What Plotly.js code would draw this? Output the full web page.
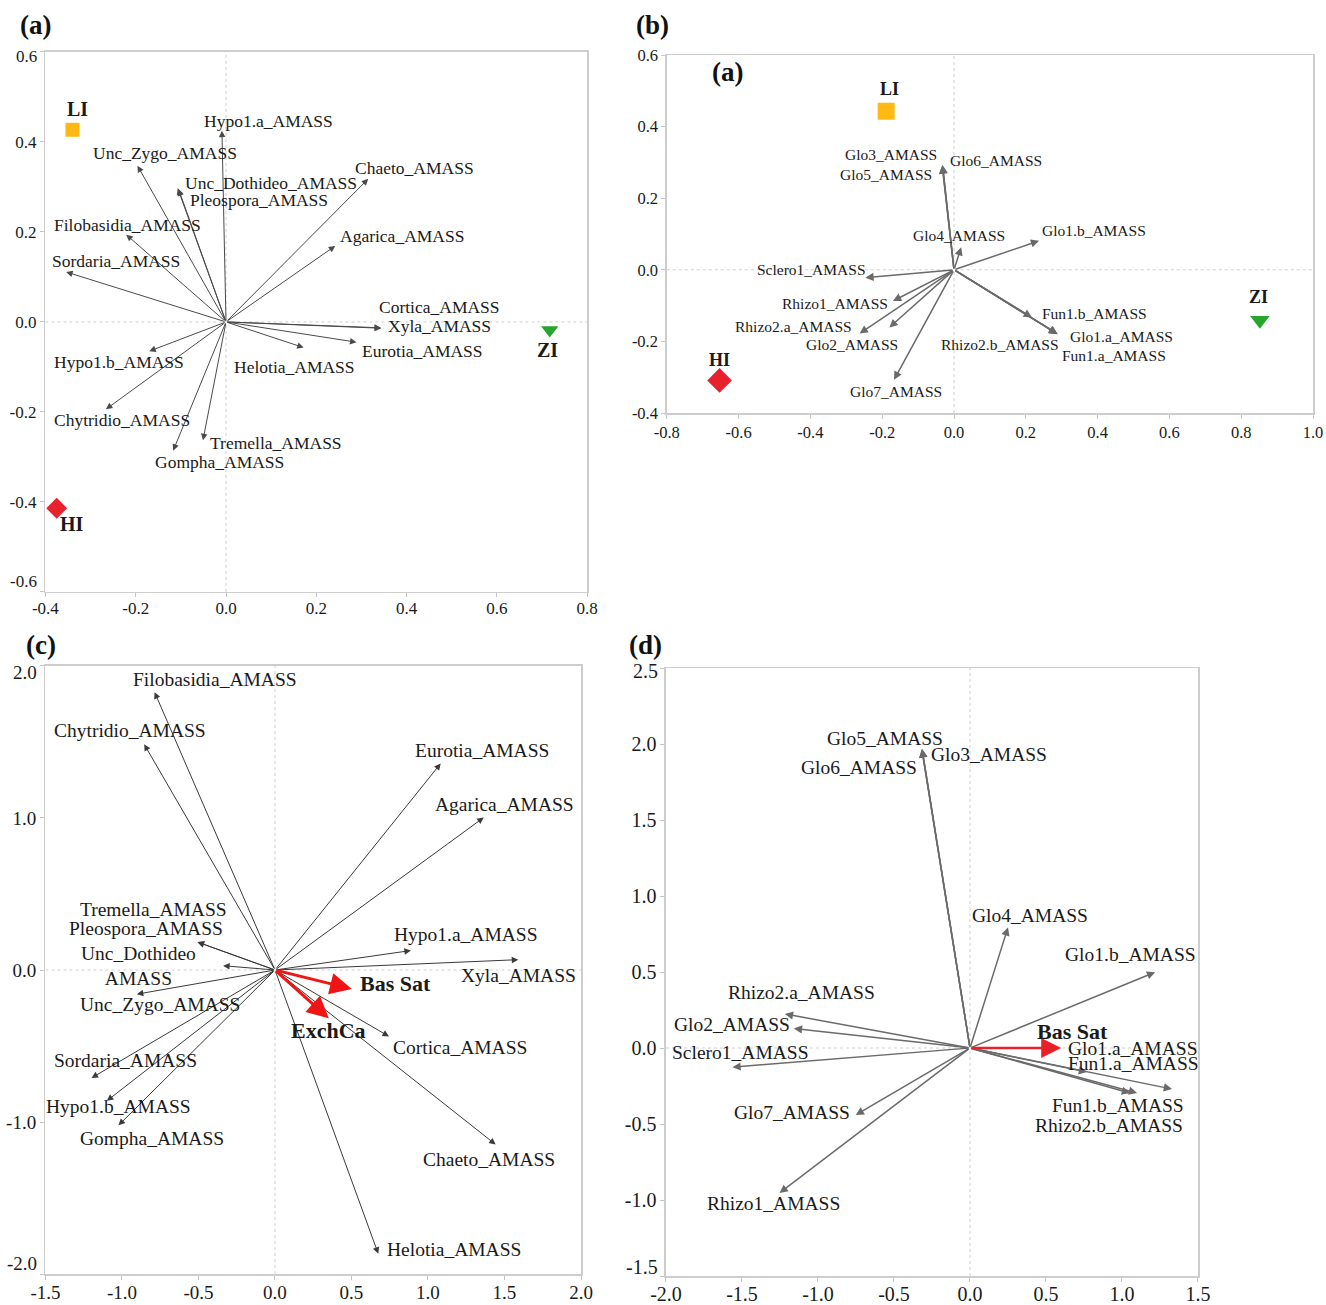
<!DOCTYPE html>
<html><head><meta charset="utf-8">
<script src="https://cdn.plot.ly/plotly-3.0.1.min.js"></script>
<style>html,body{margin:0;padding:0;background:#fff}#chart{width:1326px;height:1305px}</style>
</head><body><div id="chart"></div>
<script>
// ================= DATA =================
const siteNames = ['LI', 'ZI', 'HI'];
const siteColors = ['#FFB912', '#27A62C', '#E8212E'];
const siteSymbols = ['square', 'triangle-down', 'diamond'];

// (a) species arrows vs site scores
const aNames = ['Hypo1.a_AMASS', 'Unc_Zygo_AMASS', 'Unc_Dothideo_AMASS', 'Pleospora_AMASS', 'Chaeto_AMASS', 'Agarica_AMASS', 'Filobasidia_AMASS', 'Sordaria_AMASS', 'Cortica_AMASS', 'Xyla_AMASS', 'Eurotia_AMASS', 'Helotia_AMASS', 'Hypo1.b_AMASS', 'Chytridio_AMASS', 'Gompha_AMASS', 'Tremella_AMASS'];
const aX = [-0.009, -0.196, -0.107, -0.105, 0.315, 0.242, -0.221, -0.354, 0.344, 0.343, 0.289, 0.172, -0.170, -0.266, -0.117, -0.051];
const aY = [0.425, 0.347, 0.297, 0.295, 0.318, 0.169, 0.194, 0.111, -0.014, -0.013, -0.045, -0.057, -0.065, -0.194, -0.286, -0.263];
const aSiteX = [-0.340, 0.717, -0.375];
const aSiteY = [0.427, -0.018, -0.414];

// (b) AMF arrows vs site scores
const bNames = ['Glo3_AMASS', 'Glo5_AMASS', 'Glo6_AMASS', 'Glo4_AMASS', 'Glo1.b_AMASS', 'Sclero1_AMASS', 'Rhizo1_AMASS', 'Rhizo2.a_AMASS', 'Glo2_AMASS', 'Glo7_AMASS', 'Fun1.b_AMASS', 'Glo1.a_AMASS', 'Fun1.a_AMASS', 'Rhizo2.b_AMASS'];
const bX = [-0.032, -0.032, -0.033, 0.020, 0.237, -0.247, -0.170, -0.263, -0.180, -0.167, 0.217, 0.289, 0.288, 0.287];
const bY = [0.293, 0.292, 0.291, 0.063, 0.081, -0.022, -0.087, -0.178, -0.161, -0.307, -0.133, -0.180, -0.179, -0.178];
const bSiteX = [-0.189, 0.852, -0.653];
const bSiteY = [0.443, -0.141, -0.309];

// (c) species arrows with environmental vectors
const cNames = ['Filobasidia_AMASS', 'Chytridio_AMASS', 'Eurotia_AMASS', 'Agarica_AMASS', 'Hypo1.a_AMASS', 'Xyla_AMASS', 'Tremella_AMASS', 'Pleospora_AMASS', 'Unc_Dothideo<br>AMASS', 'Unc_Zygo_AMASS', 'Sordaria_AMASS', 'Hypo1.b_AMASS', 'Gompha_AMASS', 'Cortica_AMASS', 'Chaeto_AMASS', 'Helotia_AMASS'];
const cX = [-0.787, -0.855, 1.083, 1.364, 0.888, 1.590, -0.507, -0.505, -0.339, -0.903, -1.199, -1.099, -1.023, 0.745, 1.442, 0.675];
const cY = [1.828, 1.485, 1.359, 1.003, 0.128, 0.068, 0.184, 0.183, 0.028, -0.159, -0.710, -0.861, -1.022, -0.437, -1.148, -1.867];
const cEnvNames = ['Bas Sat', 'ExchCa'];
const cEnvX = [0.502, 0.352];
const cEnvY = [-0.125, -0.318];

// (d) AMF arrows with environmental vector
const dNames = ['Glo5_AMASS', 'Glo3_AMASS', 'Glo6_AMASS', 'Glo4_AMASS', 'Glo1.b_AMASS', 'Rhizo2.a_AMASS', 'Glo2_AMASS', 'Sclero1_AMASS', 'Glo7_AMASS', 'Rhizo1_AMASS', 'Glo1.a_AMASS', 'Fun1.a_AMASS', 'Fun1.b_AMASS', 'Rhizo2.b_AMASS'];
const dX = [-0.315, -0.316, -0.317, 0.250, 1.218, -1.218, -1.159, -1.563, -0.752, -1.253, 1.329, 0.770, 1.053, 1.099];
const dY = [1.967, 1.966, 1.965, 0.794, 0.499, 0.224, 0.129, -0.126, -0.441, -0.954, -0.270, -0.158, -0.296, -0.296];
const dEnvNames = ['Bas Sat'];
const dEnvX = [0.600];
const dEnvY = [0.0];

// tick values / labels
const aXticks = [-0.4, -0.2, 0.0, 0.2, 0.4, 0.6, 0.8];
const aXtext = ['-0.4', '-0.2', '0.0', '0.2', '0.4', '0.6', '0.8'];
const aYticks = [-0.6, -0.4, -0.2, 0.0, 0.2, 0.4, 0.6];
const aYtext = ['-0.6', '-0.4', '-0.2', '0.0', '0.2', '0.4', '0.6'];
const bXticks = [-0.8, -0.6, -0.4, -0.2, 0.0, 0.2, 0.4, 0.6, 0.8, 1.0];
const bXtext = ['-0.8', '-0.6', '-0.4', '-0.2', '0.0', '0.2', '0.4', '0.6', '0.8', '1.0'];
const bYticks = [-0.4, -0.2, 0.0, 0.2, 0.4, 0.6];
const bYtext = ['-0.4', '-0.2', '0.0', '0.2', '0.4', '0.6'];
const cXticks = [-1.5, -1.0, -0.5, 0.0, 0.5, 1.0, 1.5, 2.0];
const cXtext = ['-1.5', '-1.0', '-0.5', '0.0', '0.5', '1.0', '1.5', '2.0'];
const cYticks = [-2.0, -1.0, 0.0, 1.0, 2.0];
const cYtext = ['-2.0', '-1.0', '0.0', '1.0', '2.0'];
const dXticks = [-2.0, -1.5, -1.0, -0.5, 0.0, 0.5, 1.0, 1.5];
const dXtext = ['-2.0', '-1.5', '-1.0', '-0.5', '0.0', '0.5', '1.0', '1.5'];
const dYticks = [-1.5, -1.0, -0.5, 0.0, 0.5, 1.0, 1.5, 2.0, 2.5];
const dYtext = ['-1.5', '-1.0', '-0.5', '0.0', '0.5', '1.0', '1.5', '2.0', '2.5'];

// ================= LABEL PLACEMENT (layout) =================
const aLabPos = [[-0.053, 0.446], [-0.300, 0.375], [-0.096, 0.309], [-0.085, 0.271], [0.281, 0.341], [0.249, 0.192], [-0.386, 0.215], [-0.390, 0.136], [0.335, 0.034], [0.355, -0.010], [0.297, -0.065], [0.013, -0.101], [-0.386, -0.090], [-0.386, -0.218], [-0.162, -0.311], [-0.039, -0.270]];
const aSiteLab = [[-0.328, 0.473], [0.712, -0.062], [-0.341, -0.449]];
const bLabPos = [[-0.309, 0.322], [-0.323, 0.266], [-0.016, 0.306], [-0.120, 0.095], [0.239, 0.109], [-0.553, 0.001], [-0.485, -0.093], [-0.616, -0.159], [-0.417, -0.210], [-0.294, -0.340], [0.239, -0.122], [0.317, -0.187], [0.294, -0.238], [-0.042, -0.210]];
const bSiteLab = [[-0.181, 0.506], [0.847, -0.075], [-0.652, -0.251]];
const cLabPos = [[-0.943, 1.908, 'left'], [-1.455, 1.574, 'left'], [0.903, 1.443, 'left'], [1.033, 1.092, 'left'], [0.762, 0.231, 'left'], [1.204, -0.033, 'left'], [-1.287, 0.396, 'left'], [-1.357, 0.273, 'left'], [-0.895, 0.026, 'center'], [-1.287, -0.228, 'left'], [-1.455, -0.596, 'left'], [-0.534, -0.897, 'right'], [-1.287, -1.106, 'left'], [0.757, -0.513, 'left'], [0.953, -1.245, 'left'], [0.720, -1.836, 'left']];
const cEnvLab = [[0.544, -0.090], [0.090, -0.398]];
const dLabPos = [[-0.954, 2.035], [-0.267, 1.930], [-1.123, 1.846], [-0.003, 0.873], [0.615, 0.612], [-1.608, 0.368], [-1.961, 0.154], [-1.976, -0.030], [-1.563, -0.426], [-1.741, -1.021], [0.630, 0.0], [0.630, -0.104], [0.526, -0.376], [0.416, -0.511]];
const dEnvLab = [[0.428, 0.107]];

// ================= BUILD =================
const FONT = 'Liberation Serif, Times New Roman, Times, serif';
const TXT = '#1a1a1a';

// y axes whose end labels are nudged inside the frame (as in the original figure):
// [first-label shift up (px), last-label shift down (px)]
const edgeShift = {y: [10, 5], y3: [11, 7], y4: [9, 3]};

function axis(domain, range, tv, tt, fs, anchor, standoff, hideEnds) {
  const shown = hideEnds ? tt.map((t, i) => (i === 0 || i === tt.length - 1) ? '' : t) : tt;
  return {
    domain: domain, range: range, anchor: anchor,
    tickmode: 'array', tickvals: tv, ticktext: shown,
    showline: true, linecolor: '#cdcdcd', linewidth: 1.5, mirror: true,
    ticks: 'outside', ticklen: 4, tickwidth: 1, tickcolor: '#c4c4c4',
    ticklabelstandoff: standoff || 0,
    showgrid: false, zeroline: false, fixedrange: true,
    tickfont: {family: FONT, size: fs, color: TXT}
  };
}

function edgeLabels(yr, xdom0, tv, tt, fs) {
  const sh = edgeShift[yr];
  const n = tv.length - 1;
  return [[0, sh[0]], [n, -sh[1]]].map(p => ({
    xref: 'paper', yref: yr, x: xdom0, y: tv[p[0]], xshift: -6, yshift: p[1],
    xanchor: 'right', yanchor: 'middle', showarrow: false, text: tt[p[0]],
    font: {family: FONT, size: fs, color: TXT}
  }));
}

function arrows(xs, ys, xr, yr, color, width, size) {
  return xs.map((x, i) => ({
    xref: xr, yref: yr, axref: xr, ayref: yr,
    x: x, y: ys[i], ax: 0, ay: 0, text: '',
    showarrow: true, arrowhead: 2, arrowsize: size, arrowwidth: width,
    arrowcolor: color, standoff: 0, startstandoff: 0
  }));
}

function labels(names, pos, xr, yr, fs, bold, anchor) {
  return names.map((n, i) => ({
    xref: xr, yref: yr, x: pos[i][0], y: pos[i][1],
    text: bold ? '<b>' + n + '</b>' : n, showarrow: false,
    xanchor: pos[i][2] || anchor || 'left', yanchor: 'middle', align: 'center',
    font: {family: FONT, size: fs, color: TXT}
  }));
}

function sites(xs, ys, xr, yr, sizes) {
  return {
    type: 'scatter', mode: 'markers', x: xs, y: ys, xaxis: xr, yaxis: yr,
    text: siteNames, hoverinfo: 'text', cliponaxis: false, showlegend: false,
    marker: {symbol: siteSymbols, color: siteColors, size: sizes, opacity: 1, line: {width: 0}}
  };
}

function zeroLines(xr, yr) {
  const ln = {color: '#cfcfcf', width: 1, dash: 'dot'};
  return [
    {type: 'line', xref: xr, yref: yr + ' domain', x0: 0, x1: 0, y0: 0, y1: 1, line: ln, layer: 'below'},
    {type: 'line', xref: xr + ' domain', yref: yr, x0: 0, x1: 1, y0: 0, y1: 0, line: ln, layer: 'below'}
  ];
}

const DOM = {
  ax: [0.03424, 0.44284], ay: [0.5464, 0.9602],
  bx: [0.50287, 0.99020], by: [0.68352, 0.95785],
  cx: [0.03431, 0.43816], cy: [0.02375, 0.48966],
  dx: [0.50226, 0.90347], dy: [0.02222, 0.48812]
};

let ann = [];
// (a)
ann = ann.concat(arrows(aX, aY, 'x', 'y', '#4a4a4a', 1, 1.3));
ann = ann.concat(labels(aNames, aLabPos, 'x', 'y', 17.5));
ann = ann.concat(labels(siteNames, aSiteLab, 'x', 'y', 20, true, 'center'));
ann = ann.concat(edgeLabels('y', DOM.ax[0], aYticks, aYtext, 17));
// (b)
ann = ann.concat(arrows(bX, bY, 'x2', 'y2', '#6a6a6a', 1.5, 1.1));
ann = ann.concat(labels(bNames, bLabPos, 'x2', 'y2', 15.5));
ann = ann.concat(labels(siteNames, bSiteLab, 'x2', 'y2', 18, true, 'center'));
// (c)
ann = ann.concat(arrows(cX, cY, 'x3', 'y3', '#3a3a3a', 1, 1.3));
ann = ann.concat(arrows(cEnvX, cEnvY, 'x3', 'y3', '#F01515', 3, 1.45));
ann = ann.concat(labels(cNames, cLabPos, 'x3', 'y3', 19.5));
ann = ann.concat(labels(cEnvNames, cEnvLab, 'x3', 'y3', 22, true));
ann = ann.concat(edgeLabels('y3', DOM.cx[0], cYticks, cYtext, 19));
// (d)
ann = ann.concat(arrows(dX, dY, 'x4', 'y4', '#6a6a6a', 1.5, 1.1));
ann = ann.concat(arrows(dEnvX, dEnvY, 'x4', 'y4', '#E8202A', 2.5, 1.6));
ann = ann.concat(labels(dNames, dLabPos, 'x4', 'y4', 19.5));
ann = ann.concat(labels(dEnvNames, dEnvLab, 'x4', 'y4', 22, true));
ann = ann.concat(edgeLabels('y4', DOM.dx[0], dYticks, dYtext, 20));

// panel letters
const panelLetters = [['(a)', 18, 25], ['(b)', 634, 25], ['(c)', 24, 645], ['(d)', 627, 645], ['(a)', 710, 72]];
panelLetters.forEach(p => ann.push({
  xref: 'paper', yref: 'paper', x: p[1] / 1326, y: 1 - p[2] / 1305,
  xanchor: 'left', yanchor: 'middle', showarrow: false,
  text: '<b>' + p[0] + '</b>', font: {family: FONT, size: 27, color: '#111'}
}));

const data = [
  sites(aSiteX, aSiteY, 'x', 'y', [14, 15, 16]),
  sites(bSiteX, bSiteY, 'x2', 'y2', [17, 17, 19])
];

const layout = {
  width: 1326, height: 1305,
  margin: {l: 0, r: 0, t: 0, b: 0},
  paper_bgcolor: '#ffffff', plot_bgcolor: '#ffffff',
  showlegend: false,
  xaxis: axis(DOM.ax, [-0.4, 0.8], aXticks, aXtext, 17, 'y', -4),
  yaxis: axis(DOM.ay, [-0.6, 0.6], aYticks, aYtext, 17, 'x', 0, true),
  xaxis2: axis(DOM.bx, [-0.8, 1.0], bXticks, bXtext, 16.5, 'y2'),
  yaxis2: axis(DOM.by, [-0.4, 0.6], bYticks, bYtext, 16.5, 'x2'),
  xaxis3: axis(DOM.cx, [-1.5, 2.0], cXticks, cXtext, 19, 'y3', -3),
  yaxis3: axis(DOM.cy, [-2.0, 2.0], cYticks, cYtext, 19, 'x3', 0, true),
  xaxis4: axis(DOM.dx, [-2.0, 1.5], dXticks, dXtext, 20, 'y4', -5),
  yaxis4: axis(DOM.dy, [-1.5, 2.5], dYticks, dYtext, 20, 'x4', 0, true),
  shapes: [].concat(zeroLines('x', 'y'), zeroLines('x2', 'y2'), zeroLines('x3', 'y3'), zeroLines('x4', 'y4')),
  annotations: ann
};

Plotly.newPlot('chart', data, layout, {staticPlot: true, displayModeBar: false});
</script>
</body></html>
